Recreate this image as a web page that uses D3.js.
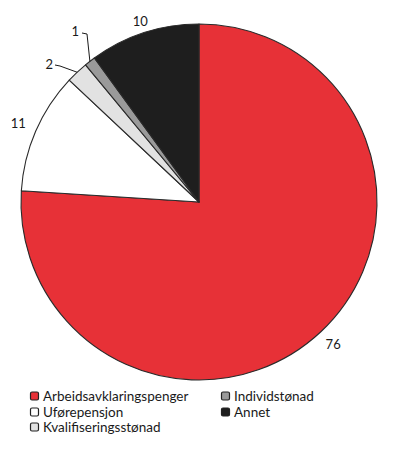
<!DOCTYPE html>
<html>
<head>
<meta charset="utf-8">
<script src="https://cdn.jsdelivr.net/npm/d3@7"></script>
<style>
  body { margin: 0; background: #fff; }
  text { font-family: Lato, "Open Sans", sans-serif; fill: #1a1a1a; }
</style>
</head>
<body>
<div id="chart"></div>
<script>
// data
var categories = ["Arbeidsavklaringspenger", "Uførepensjon", "Kvalifiseringsstønad", "Individstønad", "Annet"];
var values = [76, 11, 2, 1, 10];
var colors = ["#e73137", "#ffffff", "#e2e2e2", "#9a9a9a", "#1e1e1e"];

var width = 400, height = 454;
var cx = 199, cy = 202, radius = 178;

var svg = d3.select("#chart")
    .append("svg")
        .attr("width", width)
        .attr("height", height);

var g = svg.append("g")
    .attr("transform", "translate(" + cx + "," + cy + ")");

var pie = d3.pie().sort(null).value(function(d){ return d; });
var arcs = pie(values);

var arc = d3.arc().innerRadius(0).outerRadius(radius);

g.selectAll("path")
    .data(arcs)
    .enter()
    .append("path")
        .attr("d", arc)
        .attr("fill", function(d, i){ return colors[i]; })
        .attr("stroke", "#2a2a2a")
        .attr("stroke-width", 1.1)
        .attr("stroke-linejoin", "round");

function pt(angle, r) {
  return [Math.sin(angle) * r, -Math.cos(angle) * r];
}

// labels: big slices just outside, small ones with a leader line
var leaders = {
  3: { elbow: [-112, -168], end: [-117, -169], text: [-120, -166], anchor: "end" },
  2: { elbow: [-139, -136], end: [-144, -137], text: [-146, -133], anchor: "end" }
};
var labelR = [196, 197, 0, 0, 190];

arcs.forEach(function(d, i) {
  var mid = (d.startAngle + d.endAngle) / 2;
  if (leaders[i]) {
    var L = leaders[i];
    var p0 = pt(mid, radius);
    g.append("polyline")
        .attr("points", [p0, L.elbow, L.end].map(function(p){ return p.join(","); }).join(" "))
        .attr("fill", "none")
        .attr("stroke", "#1a1a1a")
        .attr("stroke-width", 1);
    g.append("text")
        .attr("x", L.text[0])
        .attr("y", L.text[1])
        .attr("text-anchor", L.anchor)
        .attr("font-size", "13px")
        .text(values[i]);
  } else {
    var p = pt(mid, labelR[i]);
    g.append("text")
        .attr("x", p[0])
        .attr("y", p[1])
        .attr("dy", "0.35em")
        .attr("text-anchor", "middle")
        .attr("font-size", "13px")
        .text(values[i]);
  }
});

// legend
var legendPos = [[30, 396], [30, 412], [30, 427], [221, 396], [221, 412]];
var legend = svg.selectAll(".legend")
    .data(categories)
    .enter()
    .append("g")
        .attr("class", "legend")
        .attr("transform", function(d, i){ return "translate(" + legendPos[i][0] + "," + legendPos[i][1] + ")"; });

legend.append("rect")
    .attr("x", 0.5)
    .attr("y", -4)
    .attr("width", 8)
    .attr("height", 8)
    .attr("rx", 1.5)
    .attr("fill", function(d, i){ return colors[i]; })
    .attr("stroke", "#222")
    .attr("stroke-width", 1.2);

legend.append("text")
    .attr("x", 13)
    .attr("y", 0)
    .attr("dy", "0.35em")
    .attr("font-size", "13.5px")
    .text(function(d){ return d; });
</script>
</body>
</html>
